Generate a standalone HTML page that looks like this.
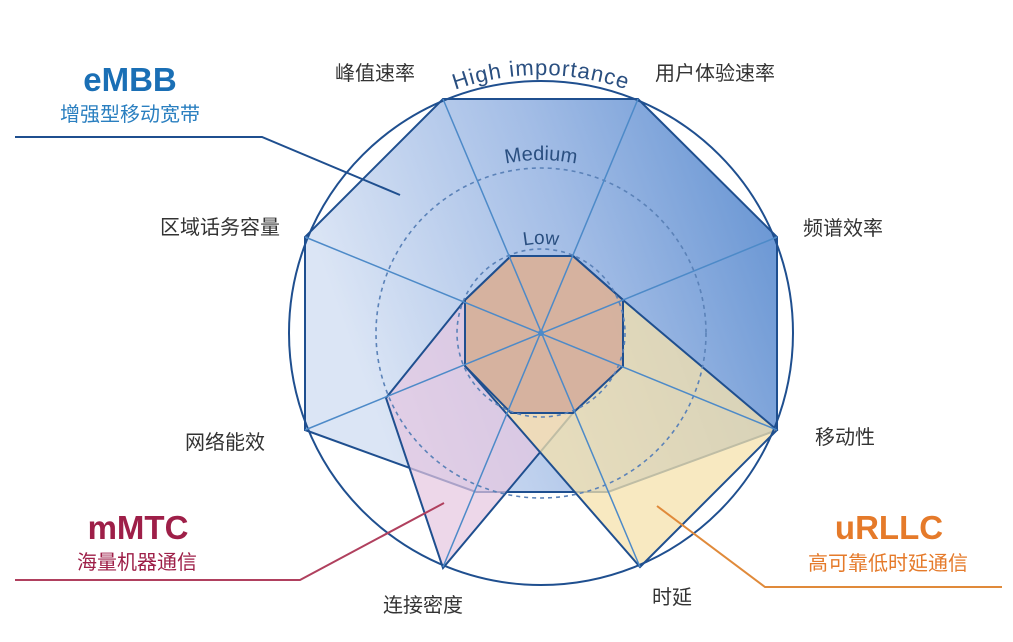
<!DOCTYPE html>
<html><head><meta charset="utf-8"><style>
html,body{margin:0;padding:0;background:#fff;}
svg{display:block;}
.cn{font-family:"Liberation Sans","Noto Sans CJK SC",sans-serif;font-size:20px;fill:#333;}
</style></head><body>
<svg width="1013" height="642" viewBox="0 0 1013 642" xmlns="http://www.w3.org/2000/svg">
<defs>
<linearGradient id="gb" x1="0" y1="0.3" x2="1" y2="0">
<stop offset="0" stop-color="#dbe5f5"/><stop offset="0.5" stop-color="#a3bde6"/><stop offset="1" stop-color="#5f8fd0"/>
</linearGradient>
<path id="arcH" d="M 283 333 A 258 258 0 0 1 799 333" fill="none"/>
<path id="arcM" d="M 369 332 A 172 172 0 0 1 713 332" fill="none"/>
<path id="arcL" d="M 453 332 A 88 88 0 0 1 629 332" fill="none"/>
</defs>
<polygon points="443,99 638,99 777,237 777,430 608,492 476,492 305,430 305,237" fill="url(#gb)" stroke="#1f4f8f" stroke-width="2"/>
<polygon points="511,256 573,256 623,300 623,366 573,413 443,568 386,398 465,300" fill="#e6c6e0" fill-opacity="0.7" stroke="#1f4f8f" stroke-width="2"/>
<polygon points="511,256 573,256 623,300 777,430 640,567 465,366 465,300" fill="#f6e1ac" fill-opacity="0.75" stroke="#1f4f8f" stroke-width="2"/>
<polygon points="511,256 573,256 623,300 623,366 573,413 511,413 465,366 465,300" fill="#cfa898" fill-opacity="0.8" stroke="#1f4f8f" stroke-width="2"/>
<circle cx="541" cy="333" r="252" fill="none" stroke="#1f4f8f" stroke-width="2"/>
<circle cx="541" cy="333" r="165" fill="none" stroke="#5b82b8" stroke-width="1.6" stroke-dasharray="4,4"/>
<circle cx="541" cy="333" r="84" fill="none" stroke="#5b82b8" stroke-width="1.6" stroke-dasharray="4,4"/>
<g stroke="#4d8ac8" stroke-width="1.5">
<line x1="443" y1="99" x2="640" y2="567"/>
<line x1="638" y1="99" x2="443" y2="567"/>
<line x1="777" y1="237" x2="305" y2="430"/>
<line x1="777" y1="430" x2="305" y2="237"/>
</g>
<circle cx="541" cy="333" r="3" fill="#4d8ac8"/>
<text font-family="Liberation Sans,sans-serif" font-size="22" fill="#2a4f80" letter-spacing="1"><textPath href="#arcH" startOffset="50%" text-anchor="middle">High importance</textPath></text>
<text font-family="Liberation Sans,sans-serif" font-size="20" fill="#2a4f80"><textPath href="#arcM" startOffset="50%" text-anchor="middle">Medium</textPath></text>
<text font-family="Liberation Sans,sans-serif" font-size="19" fill="#2a4f80"><textPath href="#arcL" startOffset="50%" text-anchor="middle">Low</textPath></text>
<text class="cn" x="335" y="80">峰值速率</text>
<text class="cn" x="655" y="80">用户体验速率</text>
<text class="cn" x="803" y="235">频谱效率</text>
<text class="cn" x="815" y="444">移动性</text>
<text class="cn" x="652" y="604">时延</text>
<text class="cn" x="383" y="612">连接密度</text>
<text class="cn" x="185" y="449">网络能效</text>
<text class="cn" x="160" y="234">区域话务容量</text>
<polyline points="15,137 262,137 400,195" fill="none" stroke="#1f4f8f" stroke-width="2"/>
<polyline points="444,503 300,580 15,580" fill="none" stroke="#b0405e" stroke-width="2"/>
<polyline points="657,506 765,587 1002,587" fill="none" stroke="#e08a3a" stroke-width="2"/>
<text x="130" y="91" text-anchor="middle" font-family="Liberation Sans,sans-serif" font-weight="bold" font-size="33" fill="#1a6fb5">eMBB</text>
<text x="130" y="121" text-anchor="middle" font-family="Liberation Sans,'Noto Sans CJK SC',sans-serif" font-size="20" fill="#2a7fc0">增强型移动宽带</text>
<text x="138" y="539" text-anchor="middle" font-family="Liberation Sans,sans-serif" font-weight="bold" font-size="33" fill="#9e1f48">mMTC</text>
<text x="137" y="569" text-anchor="middle" font-family="Liberation Sans,'Noto Sans CJK SC',sans-serif" font-size="20" fill="#9e1f48">海量机器通信</text>
<text x="889" y="539" text-anchor="middle" font-family="Liberation Sans,sans-serif" font-weight="bold" font-size="33" fill="#e57a2a">uRLLC</text>
<text x="888" y="570" text-anchor="middle" font-family="Liberation Sans,'Noto Sans CJK SC',sans-serif" font-size="20" fill="#e57a2a">高可靠低时延通信</text>
</svg>
</body></html>
